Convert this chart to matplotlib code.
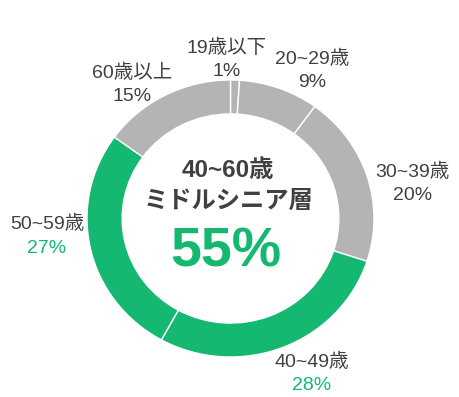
import matplotlib
matplotlib.use("Agg")
import matplotlib.pyplot as plt

# ---- data ----
categories = ["19歳以下", "20~29歳", "30~39歳", "40~49歳", "50~59歳", "60歳以上"]
shares = [1, 9, 20, 28, 27, 15]
highlight = [False, False, False, True, True, False]
center_title = ["40~60歳", "ミドルシニア層"]
center_value = "55%"

# ---- layout (label anchors in axes data units: x, first-line baseline, second-line baseline) ----
label_pos = [(-0.024, 1.195, 1.029),
             (0.571, 1.116, 0.949),
             (1.268, 0.300, 0.134),
             (0.566, -1.072, -1.238),
             (-1.279, -0.076, -0.249),
             (-0.686, 1.014, 0.848)]

GREEN = "#14b870"
GRAY = "#b4b4b4"
TEXT = "#404040"
FONT = ["Liberation Sans", "Noto Sans CJK JP", "DejaVu Sans"]
plt.rcParams["font.family"] = FONT

W, H = 459, 397
fig = plt.figure(figsize=(W / 100, H / 100), dpi=100)
cx, cy, rx, ry = 230.5, 218.5, 143.5, 138.5
ax = fig.add_axes([(cx - rx) / W, (H - cy - ry) / H, 2 * rx / W, 2 * ry / H])

colors = [GREEN if h else GRAY for h in highlight]
ax.pie(shares, colors=colors, startangle=90, counterclock=False, radius=1.0,
       wedgeprops=dict(width=0.245, edgecolor="white", linewidth=1.0))
ax.set_aspect("auto")
ax.set_xlim(-1, 1)
ax.set_ylim(-1, 1)
ax.axis("off")

for cat, val, hl, (x, y1, y2) in zip(categories, shares, highlight, label_pos):
    ax.text(x, y1, cat, ha="center", va="baseline", fontsize=14, color=TEXT)
    ax.text(x, y2, f"{val}%", ha="center", va="baseline", fontsize=14,
            color=GREEN if hl else TEXT)

ax.text(-0.017, 0.300, center_title[0], ha="center", va="baseline",
        fontsize=17.5, fontweight="bold", color=TEXT)
ax.text(-0.017, 0.076, center_title[1], ha="center", va="baseline",
        fontsize=17.5, fontweight="bold", color=TEXT)
ax.text(-0.035, -0.350, center_value, ha="center", va="baseline",
        fontsize=40, fontweight="bold", color=GREEN)

fig.savefig("out.png", dpi=100)
